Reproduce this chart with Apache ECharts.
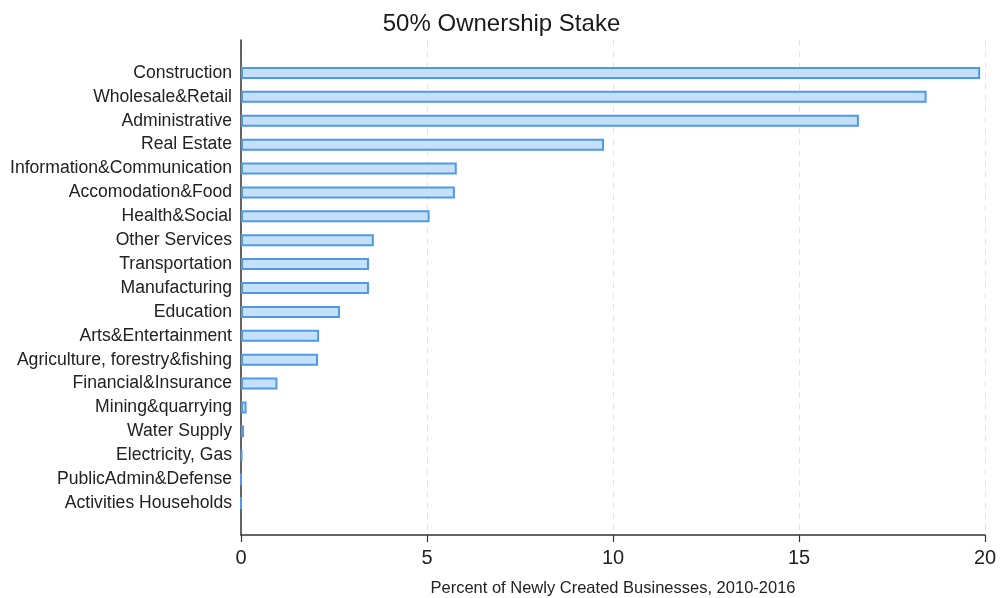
<!DOCTYPE html>
<html>
<head>
<meta charset="utf-8">
<title>50% Ownership Stake</title>
<script src="https://cdn.jsdelivr.net/npm/echarts@6/dist/echarts.min.js"></script>
<style>
  html, body { margin: 0; padding: 0; background: #fff; }
  #chart { width: 1003px; height: 598px; }
</style>
</head>
<body>
<div id="chart"></div>
<script>
// sectors, top to bottom
const sectors = [
  'Construction', 'Wholesale&Retail', 'Administrative', 'Real Estate',
  'Information&Communication', 'Accomodation&Food', 'Health&Social',
  'Other Services', 'Transportation', 'Manufacturing', 'Education',
  'Arts&Entertainment', 'Agriculture, forestry&fishing', 'Financial&Insurance',
  'Mining&quarrying', 'Water Supply', 'Electricity, Gas',
  'PublicAdmin&Defense', 'Activities Households'
]
// percent of newly created businesses
const shares = [
  19.87, 18.43, 16.61, 9.76,
  5.80, 5.75, 5.07,
  3.57, 3.44, 3.44, 2.66,
  2.10, 2.07, 0.98,
  0.15, 0.08, 0.03,
  0, 0
]
const xTicks = [0, 5, 10, 15, 20]

const font = "'Liberation Sans', Arial, Helvetica, sans-serif"
const chart = echarts.init(document.getElementById('chart'))

const option = {
  animation: false,
  title: {
    text: '50% Ownership Stake',
    left: 'center',
    top: 7,
    textStyle: { fontFamily: font, fontSize: 24, fontWeight: 'normal', color: '#1a1a1a' }
  },
  grid: [
    // outer frame: axis lines, ticks, gridlines
    { left: 241, right: 18, top: 40, bottom: 63, containLabel: false, outerBoundsMode: 'none' },
    // inner band area for the bars
    { left: 241, right: 18, top: 61, bottom: 83, containLabel: false, outerBoundsMode: 'none' }
  ],
  xAxis: [
    {
      gridIndex: 0,
      type: 'value',
      min: xTicks[0],
      max: xTicks[xTicks.length - 1],
      interval: 5,
      name: 'Percent of Newly Created Businesses, 2010-2016',
      nameLocation: 'middle',
      nameGap: 45,
      nameTextStyle: { fontFamily: font, fontSize: 16.5, color: '#222' },
      axisLine: { show: true, lineStyle: { color: '#333', width: 1.5 } },
      axisTick: { show: true, inside: false, length: 7, lineStyle: { color: '#333', width: 1.2 } },
      axisLabel: { fontFamily: font, fontSize: 20, color: '#222', margin: 13 },
      splitLine: { show: true, lineStyle: { color: '#e4e4e4', type: [6, 5], width: 1 } }
    },
    {
      gridIndex: 1,
      type: 'value',
      min: 0,
      max: 20,
      show: false
    }
  ],
  yAxis: [
    {
      gridIndex: 0,
      type: 'value',
      min: 0,
      max: 1,
      axisLine: { show: true, lineStyle: { color: '#333', width: 1.5 } },
      axisTick: { show: false },
      axisLabel: { show: false },
      splitLine: { show: false }
    },
    {
      gridIndex: 1,
      type: 'category',
      inverse: true,
      data: sectors,
      axisLine: { show: false },
      axisTick: { show: false },
      axisLabel: { fontFamily: font, fontSize: 17.6, color: '#222', margin: 9 },
      splitLine: { show: false }
    }
  ],
  series: [
    {
      name: 'Share',
      type: 'bar',
      xAxisIndex: 1,
      yAxisIndex: 1,
      data: shares,
      barWidth: 12,
      itemStyle: {
        color: '#c6e0fb',
        borderColor: '#4d9be8',
        borderWidth: 2
      }
    }
  ]
}

chart.setOption(option)
</script>
</body>
</html>
